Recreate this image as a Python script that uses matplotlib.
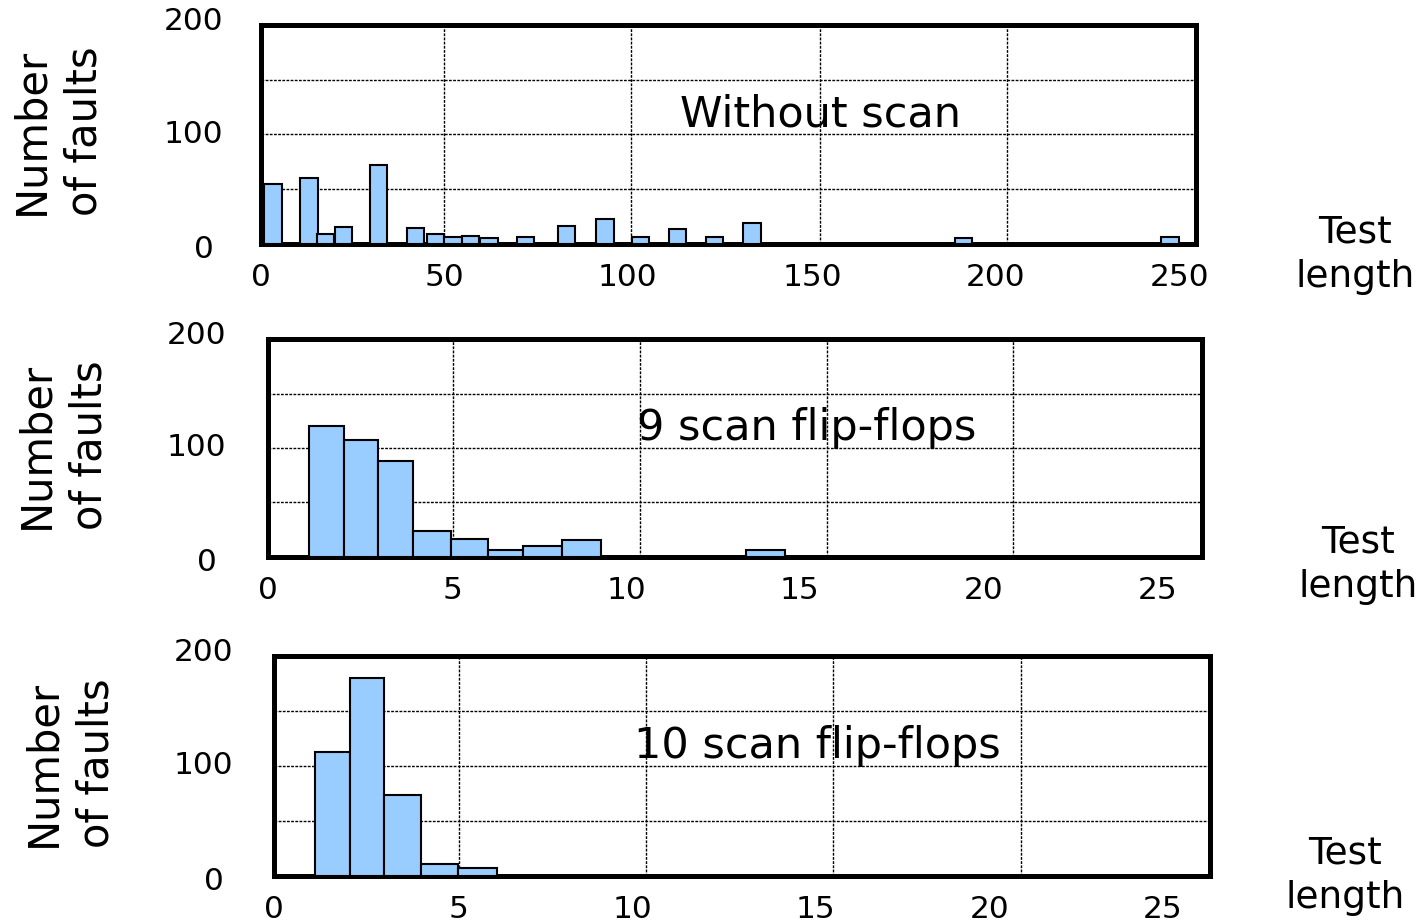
import numpy as np
import matplotlib
matplotlib.use('Agg')
import matplotlib.pyplot as plt

# Without scan: bar centres (test length) and fault counts
noscan_x = [3.2, 12.8, 17.2, 22.0, 31.4, 41.3, 46.6, 51.4, 56.0, 60.9,
            70.7, 81.7, 91.9, 101.5, 111.3, 121.2, 131.3, 187.8, 243.0]
noscan_n = [55, 60, 9, 15.5, 72.5, 15, 9, 6.5, 7.5, 5.5,
            6.5, 16, 22.5, 6, 13.5, 6, 19, 5.5, 6]

# 9 scan flip-flops: bin edges and counts
scan9_left = [1.04, 1.98, 2.91, 3.84, 4.86, 5.85, 6.79, 7.83, 12.78]
scan9_right = [1.98, 2.91, 3.84, 4.86, 5.85, 6.79, 7.83, 8.87, 13.81]
scan9_n = [120, 107.5, 88.5, 23.5, 16.5, 6.5, 10.5, 16, 6.5]

# 10 scan flip-flops
scan10_left = [1.05, 1.97, 2.89, 3.89, 4.88]
scan10_right = [1.97, 2.89, 3.89, 4.88, 5.92]
scan10_n = [112.5, 180, 73.5, 10.5, 7]

titles = ['Without scan', '9 scan flip-flops', '10 scan flip-flops']
xlabels_top = ['0', '50', '100', '150', '200', '250']
xlabels_small = ['0', '5', '10', '15', '20', '25']
ylabels = ['0', '100', '200']

plt.rcParams['font.family'] = 'DejaVu Sans'
fig = plt.figure(figsize=(14.25, 9.22), dpi=100)

boxes = [[0.1832, 0.7354, 0.6561, 0.2375],
         [0.1881, 0.3959, 0.6554, 0.2364],
         [0.1923, 0.0499, 0.6568, 0.2386]]
bar_color = '#99CCFF'


def style_axis(ax, xmax, grid_x, label_x, xlabels, title, title_x, ypad):
    ax.set_xlim(0, xmax)
    ax.set_ylim(0, 200)
    ax.xaxis.remove_overlapping_locs = False
    # gridlines on major ticks, labels on minor ticks (as in the drawing,
    # the labels sit slightly off the gridlines)
    ax.set_xticks(grid_x)
    ax.set_xticklabels([])
    ax.set_yticks([50, 100, 150])
    ax.set_yticklabels([])
    ax.set_xticks(label_x, minor=True)
    ax.set_xticklabels(xlabels, minor=True)
    ax.tick_params(which='both', length=0, labelsize=22.5)
    ax.tick_params(axis='x', which='minor', pad=14)
    # y labels placed by hand, the "0" sits a bit lower and further left
    for lab, yv, dx in zip(ylabels, [-5, 100, 203], [-ypad - 9, -ypad, -ypad]):
        ax.annotate(lab, xy=(0, yv), xycoords=('axes fraction', 'data'),
                    xytext=(dx, 0), textcoords='offset pixels',
                    ha='right', va='center', fontsize=22.5,
                    annotation_clip=False)
    ax.grid(which='major', color='black', linestyle=(0, (2, 1)), linewidth=1)
    ax.set_axisbelow(True)
    for s in ax.spines.values():
        s.set_linewidth(3.6)
    ax.text(title_x, 118, title, fontsize=31, ha='center', va='center')


ax1 = fig.add_axes(boxes[0])
ax1.bar(noscan_x, noscan_n, width=4.7, color=bar_color, edgecolor='black',
        linewidth=1.5, zorder=3)
style_axis(ax1, 250, [49, 99, 149.5, 199.5],
           [0, 49, 98, 147.3, 196.5, 245.7], xlabels_top, titles[0], 149.5,
           38)

ax2 = fig.add_axes(boxes[1])
w9 = np.array(scan9_right) - np.array(scan9_left)
ax2.bar(scan9_left, scan9_n, width=w9, align='edge', color=bar_color,
        edgecolor='black', linewidth=1.5, zorder=3)
style_axis(ax2, 25, [4.9, 9.93, 14.94, 19.94],
           [-0.05, 4.9, 9.56, 14.19, 19.14, 23.8], xlabels_small,
           titles[1], 14.4, 42)

ax3 = fig.add_axes(boxes[2])
w10 = np.array(scan10_right) - np.array(scan10_left)
ax3.bar(scan10_left, scan10_n, width=w10, align='edge', color=bar_color,
        edgecolor='black', linewidth=1.5, zorder=3)
style_axis(ax3, 25, [4.89, 9.91, 14.9, 19.93],
           [-0.05, 4.89, 9.54, 14.45, 19.1, 23.74], xlabels_small,
           titles[2], 14.5, 41)

# axis captions
W, H = 1425, 922
for (x, y) in [(58, 131), (63, 445), (70, 763)]:
    fig.text(x / W, 1 - y / H, 'Number\nof faults', rotation=90,
             fontsize=30, ha='center', va='center', linespacing=1.35)
for (x, y) in [(1355, 255), (1358, 565), (1345, 876)]:
    fig.text(x / W, 1 - y / H, 'Test\nlength', fontsize=27,
             ha='center', va='center', linespacing=1.3)

plt.savefig('out.png', dpi=100)
